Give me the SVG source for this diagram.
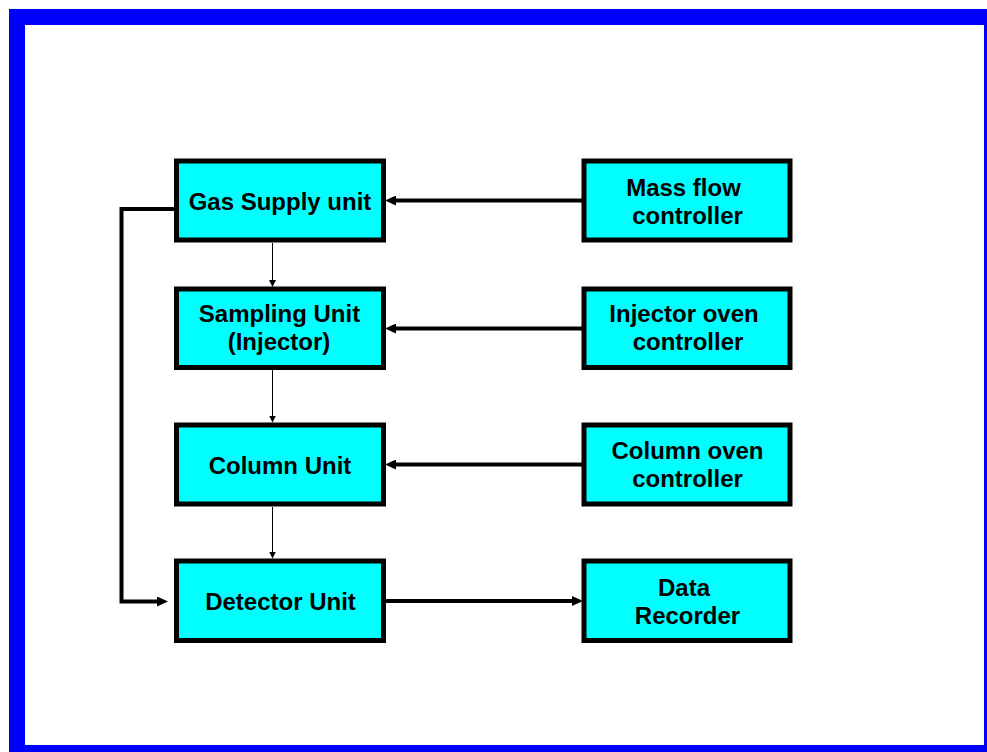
<svg xmlns="http://www.w3.org/2000/svg" width="987" height="752" viewBox="0 0 987 752">
<style>
.box{fill:#00FFFF;stroke:#000;stroke-width:5}
.t{font-family:"Liberation Sans",Arial,sans-serif;font-weight:bold;font-size:24px;fill:#000;text-anchor:middle}
.thick{fill:none;stroke:#000;stroke-width:4}
.thin{fill:none;stroke:#000;stroke-width:1}
</style>
<defs>
<marker id="ah" viewBox="0 0 11 10" refX="3" refY="5" markerWidth="11" markerHeight="10" markerUnits="userSpaceOnUse" orient="auto"><path d="M0,0 L11,5 L0,10 z" fill="#000"/></marker>
<marker id="as" viewBox="0 0 7 7" refX="2" refY="3.5" markerWidth="7" markerHeight="7" markerUnits="userSpaceOnUse" orient="auto"><path d="M0,0 L7,3.5 L0,7 z" fill="#000"/></marker>
</defs>
<rect x="0" y="0" width="987" height="752" fill="#fff"/>
<rect x="9" y="9" width="978" height="743" fill="#0000FF"/>
<rect x="25" y="25" width="959" height="720" fill="#fff"/>
<g id="connectors">
<path class="thick" d="M582,200.5 H393" marker-end="url(#ah)"/>
<path class="thick" d="M582,328.5 H393" marker-end="url(#ah)"/>
<path class="thick" d="M582,464.5 H393" marker-end="url(#ah)"/>
<path class="thick" d="M386,601 H575" marker-end="url(#ah)"/>
<path class="thick" d="M174,209 H121.5 V601.5 H160" marker-end="url(#ah)"/>
<path class="thin" d="M272.5,243 V282" marker-end="url(#as)"/>
<path class="thin" d="M272.5,370 V417.5" marker-end="url(#as)"/>
<path class="thin" d="M272.5,507 V553.5" marker-end="url(#as)"/>
</g>
<g id="gas"><rect class="box" x="176.5" y="161" width="207" height="79"/><text class="t" x="280" y="210">Gas Supply unit</text></g>
<g id="sampling"><rect class="box" x="176.5" y="289" width="207" height="78.5"/><text class="t" x="279.5" y="321.5">Sampling Unit</text><text class="t" x="279" y="350">(Injector)</text></g>
<g id="column"><rect class="box" x="176.5" y="425" width="207" height="79"/><text class="t" x="280" y="473.5">Column Unit</text></g>
<g id="detector"><rect class="box" x="176.5" y="561" width="207" height="79.5"/><text class="t" x="280.5" y="609.5">Detector Unit</text></g>
<g id="massflow"><rect class="box" x="584" y="161" width="206" height="79"/><text class="t" x="683.5" y="195.5">Mass flow</text><text class="t" x="687.5" y="223.5">controller</text></g>
<g id="injoven"><rect class="box" x="584" y="289" width="206" height="78.5"/><text class="t" x="684" y="322">Injector oven</text><text class="t" x="688" y="350">controller</text></g>
<g id="coloven"><rect class="box" x="584" y="425" width="206" height="79"/><text class="t" x="687.5" y="459">Column oven</text><text class="t" x="687.5" y="487">controller</text></g>
<g id="recorder"><rect class="box" x="584" y="561" width="206" height="79.5"/><text class="t" x="684" y="596">Data</text><text class="t" x="687.5" y="624">Recorder</text></g>
</svg>
